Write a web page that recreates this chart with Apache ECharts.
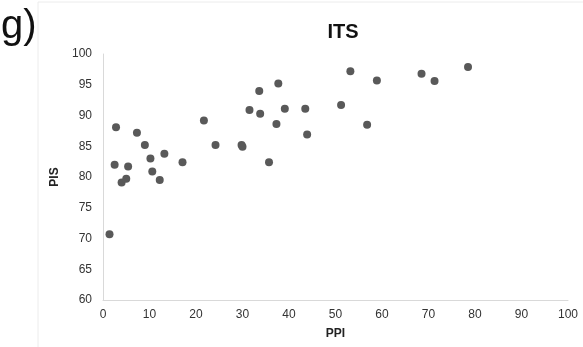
<!DOCTYPE html>
<html>
<head>
<meta charset="utf-8">
<script src="https://cdn.jsdelivr.net/npm/echarts@6/dist/echarts.min.js"></script>
<style>
html,body{margin:0;padding:0;background:#fff;}
#c{width:583px;height:347px;}
</style>
</head>
<body>
<div id="c"></div>
<script>
const ppi = [1.4, 2.5, 2.8, 4.0, 5.0, 5.4, 7.3, 9.0, 10.2, 10.6, 12.2, 13.2, 17.1, 21.7, 24.2, 29.8, 30.0, 31.5, 33.6, 33.8, 35.7, 37.3, 37.7, 39.1, 43.5, 43.9, 51.2, 53.2, 56.8, 58.9, 68.5, 71.3, 78.5];
const pis = [70.7, 82.0, 88.1, 79.1, 79.7, 81.7, 87.2, 85.2, 83.0, 80.9, 79.5, 83.8, 82.4, 89.2, 85.2, 85.2, 84.9, 90.9, 94.0, 90.3, 82.4, 88.6, 95.2, 91.1, 91.1, 86.9, 91.7, 97.2, 88.5, 95.7, 96.8, 95.6, 97.9];
const xTicks = [0, 10, 20, 30, 40, 50, 60, 70, 80, 90, 100];
const yTicks = [60, 65, 70, 75, 80, 85, 90, 95, 100];

const chart = echarts.init(document.getElementById('c'), null, {renderer: 'canvas'});
const font = 'Liberation Sans, Arial, Helvetica, sans-serif';
chart.setOption({
  backgroundColor: '#fff',
  animation: false,
  graphic: [
    {type: 'rect', shape: {x: 38, y: 2, width: 600, height: 400}, style: {fill: 'none', stroke: '#ececec', lineWidth: 1}, silent: true},
    {type: 'text', left: 1, top: 7, style: {text: 'g)', font: '40px ' + font, fill: '#111'}}
  ],
  title: {
    text: 'ITS', left: 338, top: 17, textAlign: 'center',
    textStyle: {fontFamily: font, fontSize: 20, fontWeight: 'bold', color: '#111'}
  },
  grid: {left: 103, right: 15, top: 54, bottom: 47},
  xAxis: {
    type: 'value', min: xTicks[0], max: xTicks[xTicks.length - 1], interval: 10,
    name: 'PPI', nameLocation: 'middle', nameGap: 28,
    nameTextStyle: {fontFamily: font, fontSize: 12, fontWeight: 'bold', color: '#222'},
    axisLine: {show: true, lineStyle: {color: '#d9d9d9', width: 1}},
    axisTick: {show: false},
    splitLine: {show: false},
    axisLabel: {margin: 9, fontFamily: font, fontSize: 12, color: '#333'}
  },
  yAxis: {
    type: 'value', min: yTicks[0], max: yTicks[yTicks.length - 1], interval: 5,
    name: 'PIS', nameLocation: 'middle', nameGap: 37, nameRotate: 90,
    nameTextStyle: {fontFamily: font, fontSize: 12, fontWeight: 'bold', color: '#222'},
    axisLine: {show: true, lineStyle: {color: '#d9d9d9', width: 1}},
    axisTick: {show: false},
    splitLine: {show: false},
    axisLabel: {margin: 11, fontFamily: font, fontSize: 12, color: '#333'}
  },
  series: [{
    type: 'scatter',
    symbol: 'circle',
    symbolSize: 8,
    itemStyle: {color: '#595959', opacity: 1},
    data: ppi.map((v, i) => [v, pis[i]])
  }]
});
</script>
</body>
</html>
